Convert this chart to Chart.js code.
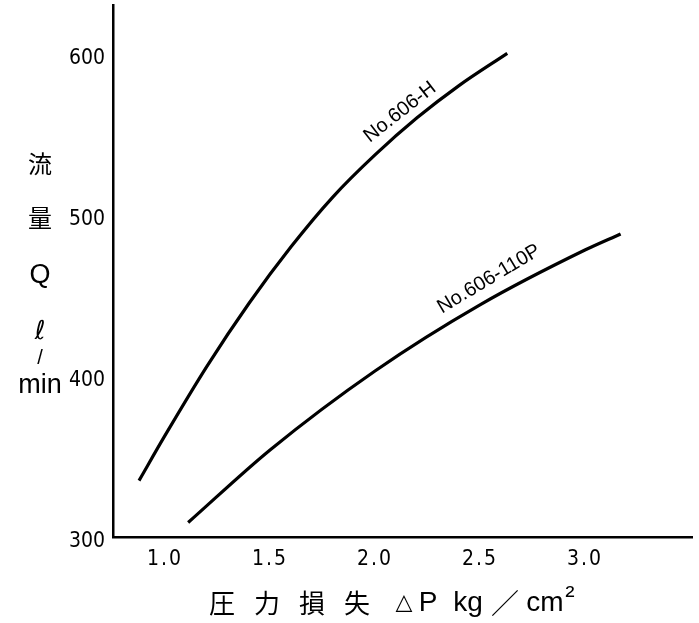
<!DOCTYPE html>
<html><head><meta charset="utf-8">
<script src="https://cdn.jsdelivr.net/npm/chart.js@4"></script>
<style>html,body{margin:0;padding:0;background:#fff}#wrap{width:699px;height:623px;position:relative}</style>
</head><body><div id="wrap"><canvas id="c"></canvas></div>
<script>
// ---- data ----
const xTicks = [1.0, 1.5, 2.0, 2.5, 3.0];
const yTicks = [300, 400, 500, 600];
const seriesNames = ['No.606-H', 'No.606-110P'];
const hX = [0.876, 1.0, 1.2, 1.4, 1.6, 1.8, 2.0, 2.2, 2.4, 2.63];
const hY = [335, 363, 406, 445, 480, 511, 537, 560, 580, 600];
const pX = [1.11, 1.5, 2.0, 2.5, 3.0, 3.17];
const pY = [309, 354, 403, 444, 478, 488];

const toPts = (xs, ys) => xs.map((x, i) => ({x: x, y: ys[i]}));

const narrow = '"Liberation Sans Narrow", "DejaVu Sans Condensed", "Liberation Sans", sans-serif';
const sans = '"Liberation Sans", Arial, sans-serif';
const cjk = '"Noto Sans CJK JP", "Noto Sans CJK SC", sans-serif';

const spacingPlugin = {
  id: 'xTickSpacing',
  beforeDraw(chart) {
    const sx = chart.scales.x;
    if (sx && !sx._spaced) {
      const orig = sx.drawLabels.bind(sx);
      sx.drawLabels = function (area) {
        chart.ctx.save();
        chart.ctx.letterSpacing = '2px';
        orig(area);
        chart.ctx.restore();
      };
      sx._spaced = true;
    }
  }
};

const textPlugin = {
  id: 'texts',
  afterDraw(chart) {
    const ctx = chart.ctx;
    const xs = chart.scales.x, ys = chart.scales.y;
    ctx.save();
    ctx.fillStyle = '#000';
    ctx.textAlign = 'center';
    ctx.textBaseline = 'middle';
    // curve labels (anchored in data space)
    const labels = [
      {text: seriesNames[0], x: 2.119, y: 563.5, rot: -38},
      {text: seriesNames[1], x: 2.543, y: 460, rot: -31}
    ];
    ctx.font = '20px ' + sans;
    labels.forEach(l => {
      ctx.save();
      ctx.translate(xs.getPixelForValue(l.x), ys.getPixelForValue(l.y));
      ctx.rotate(l.rot * Math.PI / 180);
      ctx.fillText(l.text, 0, 0);
      ctx.restore();
    });
    // y-axis title (stacked)
    const yt = [
      {t: '流', y: 164, f: '24px ' + cjk},
      {t: '量', y: 218, f: '24px ' + cjk},
      {t: 'Q', y: 276, f: '27px ' + sans},
      {t: 'ℓ', y: 332, f: '26px "DejaVu Sans", sans-serif'},
      {t: '/', y: 358, f: '20px ' + sans},
      {t: 'min', y: 386, f: '27px ' + sans}
    ];
    yt.forEach(o => { ctx.font = o.f; ctx.fillText(o.t, 40, o.y); });
    // x-axis title
    const xt = [
      {t: '圧', x: 222, f: '26px ' + cjk},
      {t: '力', x: 267, f: '26px ' + cjk},
      {t: '損', x: 312, f: '26px ' + cjk},
      {t: '失', x: 357, f: '26px ' + cjk},
      {t: '△', x: 404, f: '22px "DejaVu Sans", sans-serif'},
      {t: 'P', x: 428, f: '28px ' + sans},
      {t: 'kg', x: 468, f: '28px ' + sans},
      {t: '／', x: 505, f: '28px ' + cjk},
      {t: 'cm', x: 545, f: '28px ' + sans},
      {t: '²', x: 570, f: '28px ' + sans}
    ];
    xt.forEach(o => { ctx.font = o.f; ctx.fillText(o.t, o.x, o.t === '²' ? 597 : 603); });
    ctx.restore();
  }
};

new Chart(document.getElementById('c'), {
  type: 'scatter',
  data: {
    datasets: [
      {label: seriesNames[0], data: toPts(hX, hY)},
      {label: seriesNames[1], data: toPts(pX, pY)}
    ].map(d => Object.assign(d, {
      showLine: true, borderColor: '#000', backgroundColor: '#000',
      borderWidth: 3.2, pointRadius: 0, cubicInterpolationMode: 'monotone', fill: false
    }))
  },
  options: {
    responsive: true, maintainAspectRatio: false, animation: false,
    layout: {padding: {left: 0, right: 7, top: 5, bottom: 0}},
    plugins: {legend: {display: false}, tooltip: {enabled: false}},
    scales: {
      x: {
        type: 'linear', min: 0.752, max: 3.51,
        afterBuildTicks: s => { s.ticks = xTicks.map(v => ({value: v})); },
        afterFit: s => { s.height = 86; s.paddingLeft = 0; s.paddingRight = 0; },
        ticks: {callback: v => Number(v).toFixed(1), color: '#000', padding: 10, maxRotation: 0,
                font: {family: narrow, size: 21}},
        grid: {display: false, drawTicks: false},
        border: {display: true, color: '#000', width: 2.5}
      },
      y: {
        type: 'linear', min: 300, max: 630,
        afterBuildTicks: s => { s.ticks = yTicks.map(v => ({value: v})); },
        afterFit: s => { s.width = 113; s.paddingTop = 0; s.paddingBottom = 0; },
        ticks: {color: '#000', padding: 8, labelOffset: 5, font: {family: narrow, size: 21}},
        grid: {display: false, drawTicks: false},
        border: {display: true, color: '#000', width: 2.5}
      }
    }
  },
  plugins: [spacingPlugin, textPlugin]
});
</script>
</body></html>
